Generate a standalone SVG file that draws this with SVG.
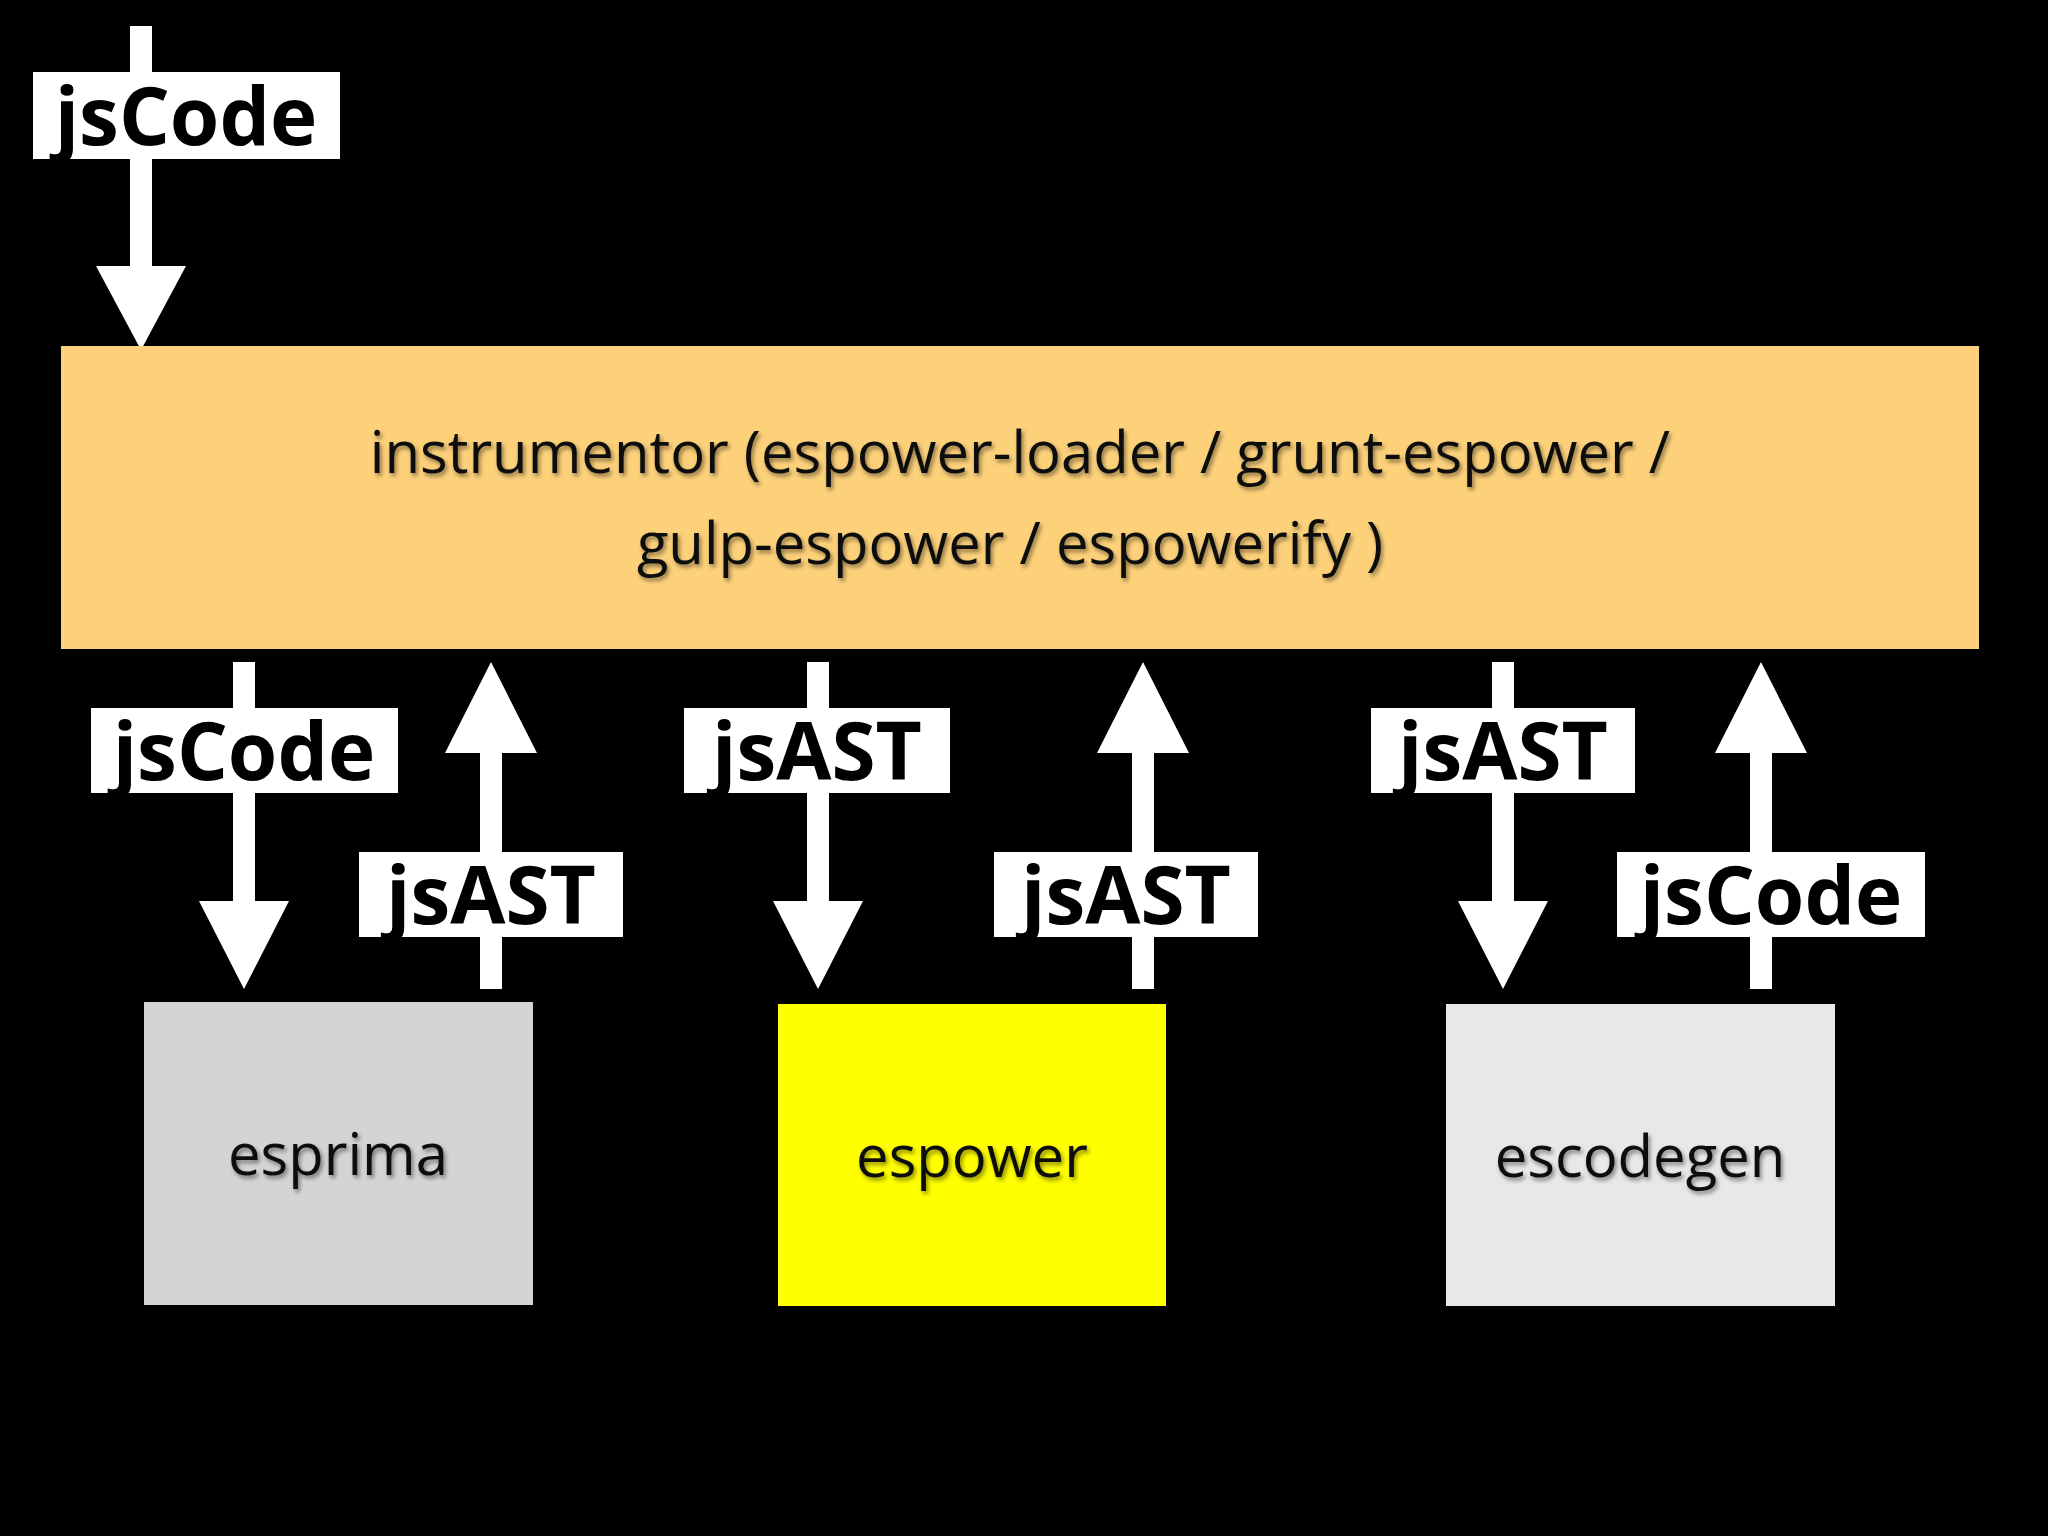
<svg xmlns="http://www.w3.org/2000/svg" width="2048" height="1536" viewBox="0 0 2048 1536">
<defs>
<style>
.lbl{fill:#fff}
.lt{font-family:"Open Sans","DejaVu Sans",sans-serif;font-weight:bold;font-size:80px;fill:#000;text-anchor:middle}
.nt{font-family:"Open Sans","DejaVu Sans",sans-serif;font-size:58px;fill:#111;text-anchor:middle;filter:url(#sh)}
.arr{fill:#fff}
</style>
<filter id="sh" x="-10%" y="-20%" width="120%" height="140%"><feDropShadow dx="2" dy="3" stdDeviation="2" flood-color="#000" flood-opacity="0.45"/></filter>
</defs>
<rect width="2048" height="1536" fill="#000"/>
<g id="connectors">
<polygon class="arr" points="130,26 152,26 152,266 186,266 141,350 96,266 130,266"/>
<polygon class="arr" points="233,662 255,662 255,901 289,901 244,989 199,901 233,901"/>
<polygon class="arr" points="480,989 502,989 502,753 537,753 491,662 445,753 480,753"/>
<polygon class="arr" points="807,662 829,662 829,901 863,901 818,989 773,901 807,901"/>
<polygon class="arr" points="1132,989 1154,989 1154,753 1189,753 1143,662 1097,753 1132,753"/>
<polygon class="arr" points="1492,662 1514,662 1514,901 1548,901 1503,989 1458,901 1492,901"/>
<polygon class="arr" points="1750,989 1772,989 1772,753 1807,753 1761,662 1715,753 1750,753"/>
<g id="labels">
<rect class="lbl" x="33" y="72" width="307" height="87"/><text class="lt" x="186" y="145">jsCode</text>
<rect class="lbl" x="91" y="708" width="307" height="85"/><text class="lt" x="244" y="780">jsCode</text>
<rect class="lbl" x="359" y="852" width="264" height="85"/><text class="lt" x="491" y="924">jsAST</text>
<rect class="lbl" x="684" y="708" width="266" height="85"/><text class="lt" x="817" y="780">jsAST</text>
<rect class="lbl" x="994" y="852" width="264" height="85"/><text class="lt" x="1126" y="924">jsAST</text>
<rect class="lbl" x="1371" y="708" width="264" height="85"/><text class="lt" x="1503" y="780">jsAST</text>
<rect class="lbl" x="1617" y="852" width="308" height="85"/><text class="lt" x="1771" y="924">jsCode</text>
</g>
</g>
<g id="instrumentor">
<rect x="61" y="346" width="1918" height="303" fill="#fdd17a"/>
<text class="nt" x="1020" y="473">instrumentor (espower-loader / grunt-espower /</text>
<text class="nt" x="1010" y="564">gulp-espower / espowerify )</text>
</g>
<g id="esprima">
<rect x="144" y="1002" width="389" height="303" fill="#d4d4d4"/>
<text class="nt" x="338" y="1175">esprima</text>
</g>
<g id="espower">
<rect x="778" y="1004" width="388" height="302" fill="#ffff00"/>
<text class="nt" x="972" y="1177">espower</text>
</g>
<g id="escodegen">
<rect x="1446" y="1004" width="389" height="302" fill="#e8e8e8"/>
<text class="nt" x="1640" y="1177">escodegen</text>
</g>
</svg>
